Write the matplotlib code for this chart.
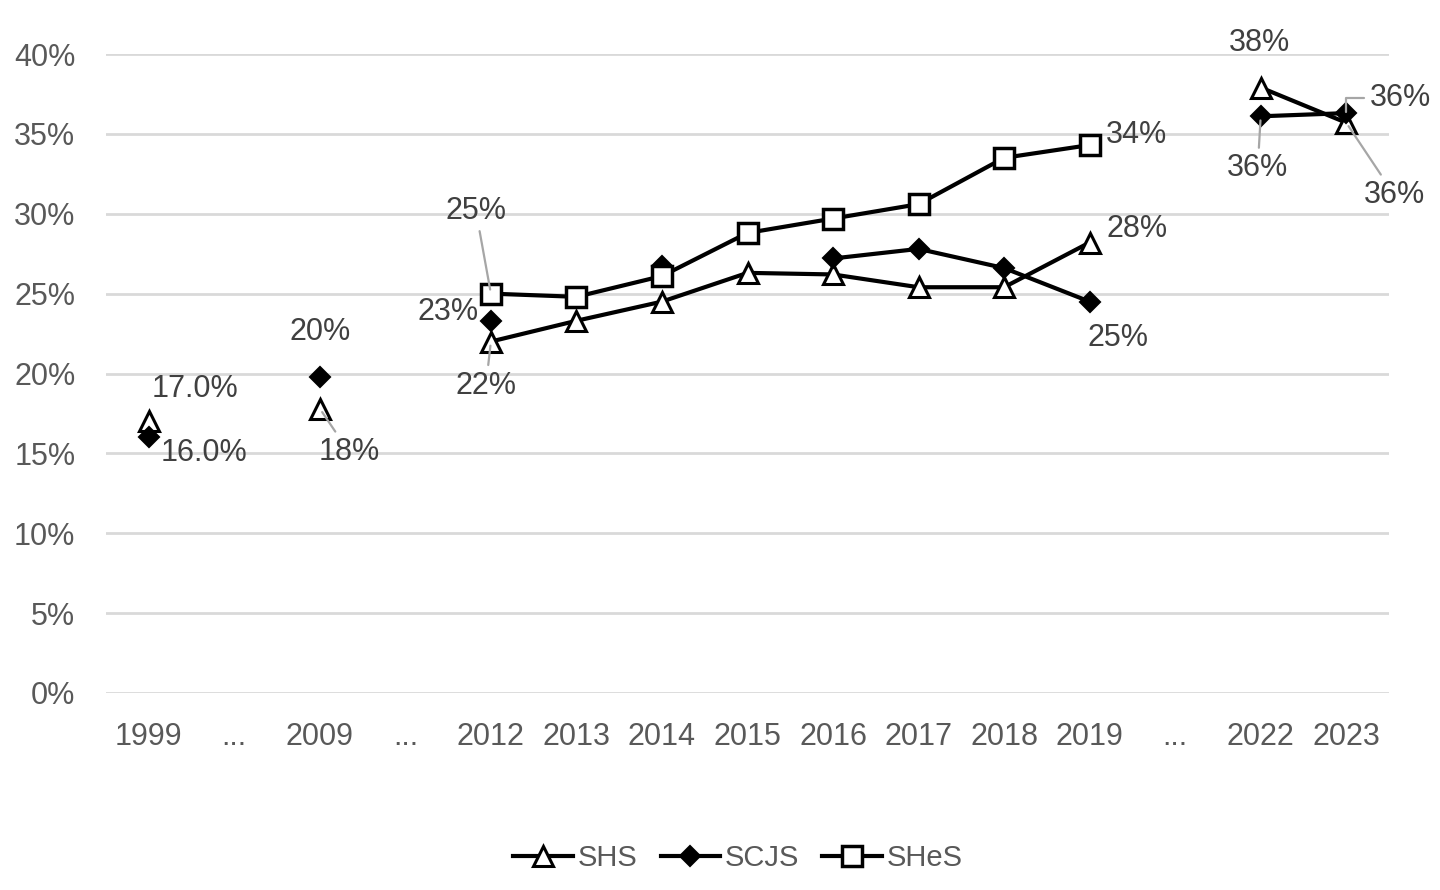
import numpy as np
import matplotlib
matplotlib.use('Agg')
import matplotlib.pyplot as plt

nan = np.nan

# categories (the '...' entries are gaps on the axis)
years = ['1999', '...', '2009', '...', '2012', '2013', '2014', '2015',
         '2016', '2017', '2018', '2019', '...', '2022', '2023']

shs = [17.0, nan, 17.8, nan, 22.0, 23.3, 24.5, 26.3,
       26.2, 25.4, 25.4, 28.2, nan, 37.9, 35.7]
scjs = [16.0, nan, 19.8, nan, 23.3, nan, 26.7, nan,
        27.2, 27.8, 26.6, 24.5, nan, 36.1, 36.3]
shes = [nan, nan, nan, nan, 25.0, 24.8, 26.1, 28.8,
        29.7, 30.6, 33.5, 34.3, nan, nan, nan]

series_names = ['SHS', 'SCJS', 'SHeS']

# data labels: (series, category index, text)
labels = [
    ('SHS', 0, '17.0%'), ('SHS', 2, '18%'), ('SHS', 4, '22%'),
    ('SHS', 11, '28%'), ('SHS', 13, '38%'), ('SHS', 14, '36%'),
    ('SCJS', 0, '16.0%'), ('SCJS', 2, '20%'), ('SCJS', 4, '23%'),
    ('SCJS', 11, '25%'), ('SCJS', 13, '36%'), ('SCJS', 14, '36%'),
    ('SHeS', 4, '25%'), ('SHeS', 11, '34%'),
]

# label layout: offset in pixels from the point, leader line style
label_layout = {
    ('SHS', 0): (46, 32, None), ('SHS', 2): (29, -43, 'line'),
    ('SHS', 4): (-5, -44, 'line'), ('SHS', 11): (47, 14, None),
    ('SHS', 13): (-1, 45, None), ('SHS', 14): (48, -72, 'line'),
    ('SCJS', 0): (55, -16, None), ('SCJS', 2): (0, 45, None),
    ('SCJS', 4): (-43, 9, None), ('SCJS', 11): (28, -36, None),
    ('SCJS', 13): (-3, -52, 'line'), ('SCJS', 14): (54, 15, 'elbow'),
    ('SHeS', 4): (-15, 83, 'line'), ('SHeS', 11): (47, 10, None),
}

plt.rcParams['font.family'] = ['Liberation Sans', 'DejaVu Sans']
FS = 22
LEG_FS = 21
TICK_C = '#595959'
LAB_C = '#404040'
GRID_C = '#d9d9d9'
LEAD_C = '#a6a6a6'

fig = plt.figure(figsize=(14.4, 8.9), dpi=100)
ax = fig.add_axes([106/1440, 1-693/890, (1389-106)/1440, (693-54)/890])

x = np.arange(len(years))
values = {'SHS': shs, 'SCJS': scjs, 'SHeS': shes}
styles = {
    'SHS': dict(marker='^', markersize=14, markerfacecolor='white',
                markeredgewidth=2.2),
    'SCJS': dict(marker='D', markersize=10.5, markerfacecolor='black',
                 markeredgewidth=1.5),
    'SHeS': dict(marker='s', markersize=14.5, markerfacecolor='white',
                 markeredgewidth=2.5),
}
for i, name in enumerate(series_names):
    ax.plot(x, values[name], color='black', lw=3, markeredgecolor='black',
            label=name, zorder=3 + i, clip_on=False, **styles[name])

for name, idx, txt in labels:
    dx, dy, lead = label_layout[(name, idx)]
    y = values[name][idx]
    kw = {}
    if lead == 'line':
        kw['arrowprops'] = dict(arrowstyle='-', color=LEAD_C, lw=1.6,
                                shrinkA=2, shrinkB=3)
    elif lead == 'elbow':
        kw['arrowprops'] = dict(arrowstyle='-', color=LEAD_C, lw=1.6,
                                shrinkA=2, shrinkB=1, relpos=(0, 0.5),
                                connectionstyle='angle,angleA=0,angleB=90,rad=0')
    ax.annotate(txt, (x[idx], y), xytext=(dx, dy), textcoords='offset pixels',
                ha='center', va='center', fontsize=FS, color=LAB_C,
                annotation_clip=False, zorder=10, **kw)

ax.set_xlim(-0.5, len(years) - 0.5)
ax.set_ylim(0, 40)
ax.set_yticks(np.arange(0, 41, 5))
ax.set_yticklabels([f'{v}%' for v in range(0, 41, 5)])
ax.set_xticks(x)
ax.set_xticklabels(years)
ax.grid(axis='y', color=GRID_C, lw=2)
ax.set_axisbelow(True)
for s in ax.spines.values():
    s.set_visible(False)
ax.tick_params(axis='both', length=0, labelsize=FS, labelcolor=TICK_C)
ax.tick_params(axis='x', pad=21)
ax.tick_params(axis='y', pad=22)

leg = fig.legend(loc='center', bbox_to_anchor=(738/1440, 1-858/890), ncol=3,
                 frameon=False, fontsize=LEG_FS, handlelength=2.05,
                 handletextpad=0.15, columnspacing=0.8)
for t in leg.get_texts():
    t.set_color(TICK_C)

fig.savefig('out.png', dpi=100)
